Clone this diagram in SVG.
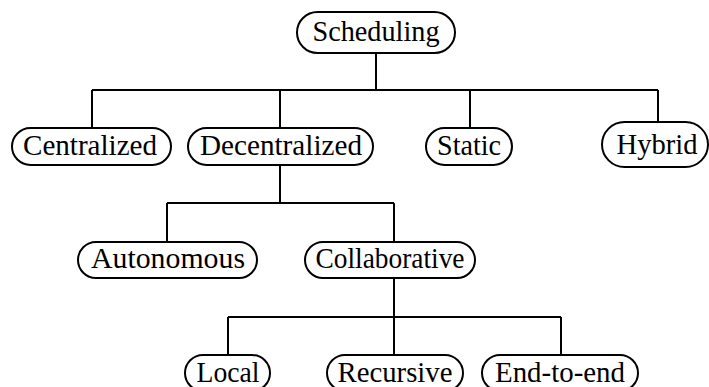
<svg xmlns="http://www.w3.org/2000/svg" width="709" height="387" viewBox="0 0 709 387">
  <style>
    .box { fill: #fff; stroke: #000; stroke-width: 2; }
    .lbl { font-family: "Liberation Serif", "DejaVu Serif", serif; font-size: 29px; fill: #000; text-anchor: middle; }
    .edge { fill: none; stroke: #000; stroke-width: 2; }
  </style>
  <rect width="709" height="387" fill="#fff"/>

  <!-- tree connectors -->
  <g id="connectors">
    <path class="edge" d="M376,53 V90" stroke-width="2.6"/>
    <path class="edge" d="M92,90 H658 M92,90 V128 M280,90 V128 M470,90 V128 M658,90 V122"/>
    <path class="edge" d="M280,165 V203 M167,203 H394 M167,203 V242 M394,203 V242"/>
    <path class="edge" d="M394,278 V317 M228,317 H561 M228,317 V355 M394,317 V355 M561,317 V355"/>
  </g>

  <g id="scheduling">
    <rect class="box" x="297" y="12" width="158" height="41" rx="20.5"/>
    <text class="lbl" x="376" y="41" textLength="127" lengthAdjust="spacingAndGlyphs">Scheduling</text>
  </g>
  <g id="centralized">
    <rect class="box" x="12" y="128" width="159" height="37" rx="18.5"/>
    <text class="lbl" x="90" y="155" textLength="134" lengthAdjust="spacingAndGlyphs">Centralized</text>
  </g>
  <g id="decentralized">
    <rect class="box" x="188" y="128" width="185" height="37" rx="18.5"/>
    <text class="lbl" x="281" y="155" textLength="162" lengthAdjust="spacingAndGlyphs">Decentralized</text>
  </g>
  <g id="static">
    <rect class="box" x="426" y="128" width="86" height="37" rx="18.5"/>
    <text class="lbl" x="469" y="155" textLength="64" lengthAdjust="spacingAndGlyphs">Static</text>
  </g>
  <g id="hybrid">
    <rect class="box" x="602" y="122" width="106" height="45" rx="22.5"/>
    <text class="lbl" x="657" y="154" textLength="81" lengthAdjust="spacingAndGlyphs">Hybrid</text>
  </g>
  <g id="autonomous">
    <rect class="box" x="78" y="242" width="179" height="36" rx="18"/>
    <text class="lbl" x="168" y="268" textLength="154" lengthAdjust="spacingAndGlyphs">Autonomous</text>
  </g>
  <g id="collaborative">
    <rect class="box" x="305" y="242" width="170" height="36" rx="18"/>
    <text class="lbl" x="390" y="268" textLength="149" lengthAdjust="spacingAndGlyphs">Collaborative</text>
  </g>
  <g id="local">
    <rect class="box" x="185" y="355" width="85" height="36" rx="18"/>
    <text class="lbl" x="228" y="382" textLength="63" lengthAdjust="spacingAndGlyphs">Local</text>
  </g>
  <g id="recursive">
    <rect class="box" x="327" y="355" width="136" height="36" rx="18"/>
    <text class="lbl" x="395" y="382" textLength="115" lengthAdjust="spacingAndGlyphs">Recursive</text>
  </g>
  <g id="end-to-end">
    <rect class="box" x="482" y="355" width="156" height="36" rx="18"/>
    <text class="lbl" x="560" y="382" textLength="130" lengthAdjust="spacingAndGlyphs">End-to-end</text>
  </g>
</svg>
